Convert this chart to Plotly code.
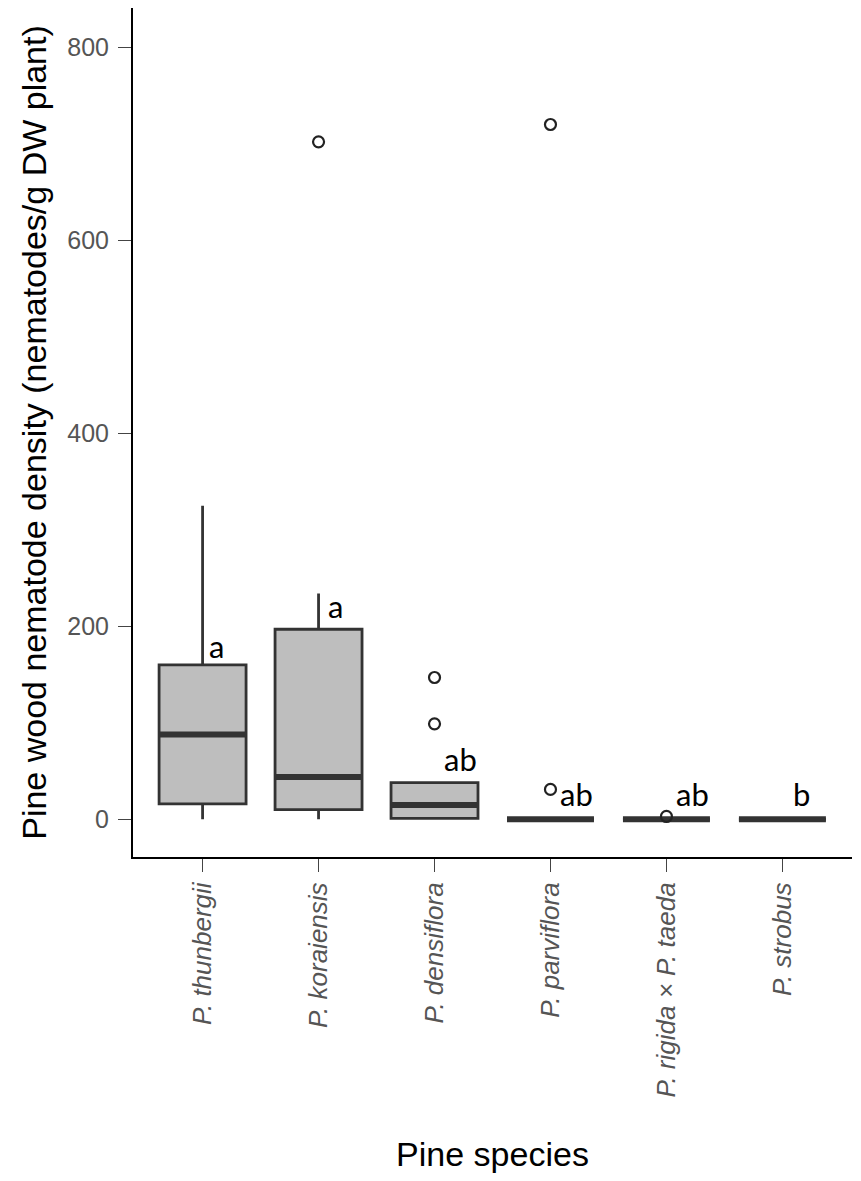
import plotly.graph_objects as go

species = ["P. thunbergii", "P. koraiensis", "P. densiflora", "P. parviflora",
           "P. rigida × P. taeda", "P. strobus"]
q1 = [16, 10, 1, 0, 0, 0]
median = [88, 44, 15, 0, 0, 0]
q3 = [160, 197, 38, 0, 0, 0]
lowerfence = [0, 0, 0, 0, 0, 0]
upperfence = [325, 234, 38, 0, 0, 0]
outlier_x = [1, 2, 2, 3, 3, 4]
outlier_y = [702, 147, 99, 720, 31, 3]
letters = ["a", "a", "ab", "ab", "ab", "b"]
letter_y = [162, 203, 45, 9, 9, 9]
letter_shift = [14, 17, 26, 26, 26, 19]

xpos = list(range(len(species)))
half = 0.375

fig = go.Figure()
fig.add_trace(go.Box(
    x=xpos, q1=q1, median=median, q3=q3,
    lowerfence=lowerfence, upperfence=upperfence,
    width=2 * half, whiskerwidth=0,
    fillcolor="#bebebe", line=dict(color="#333333", width=2.8),
    boxpoints=False, showlegend=False, hoverinfo="skip",
))
# thick median bars
for i, m in enumerate(median):
    fig.add_trace(go.Scatter(
        x=[xpos[i] - half, xpos[i] + half], y=[m, m], mode="lines",
        line=dict(color="#333333", width=6), showlegend=False, hoverinfo="skip",
    ))
fig.add_trace(go.Scatter(
    x=outlier_x, y=outlier_y, mode="markers",
    marker=dict(symbol="circle-open", size=11, color="#222222", line=dict(width=2.2)),
    showlegend=False, hoverinfo="skip",
))
for i, (t, yv, s) in enumerate(zip(letters, letter_y, letter_shift)):
    fig.add_annotation(x=xpos[i], y=yv, text=t, showarrow=False, xshift=s,
                       yanchor="bottom", xanchor="center", yshift=-4,
                       font=dict(family="Lato", size=31, color="black"))

fig.update_layout(
    width=853, height=1173,
    margin=dict(l=125, r=9, t=0, b=324),
    plot_bgcolor="white", paper_bgcolor="white",
    font=dict(family="Liberation Sans"),
    xaxis=dict(
        range=[-0.6, 5.6], tickmode="array", tickvals=xpos,
        ticktext=["<i>" + s + "</i>" for s in species], tickangle=-90,
        tickfont=dict(size=26, color="#555555"),
        ticks="outside", ticklen=13, tickwidth=1.2, tickcolor="#444444",
        showline=True, linecolor="black", linewidth=2, showgrid=False, zeroline=False,
        title=dict(text="Pine species", font=dict(size=34, color="black"), standoff=46),
    ),
    yaxis=dict(
        range=[-39, 840.7], tickvals=[0, 200, 400, 600, 800],
        tickfont=dict(size=25, color="#555555"), ticklabelstandoff=4,
        ticks="outside", ticklen=13, tickwidth=1.2, tickcolor="#444444",
        showline=True, linecolor="black", linewidth=2, showgrid=False, zeroline=False,
        title=dict(text="Pine wood nematode density (nematodes/g DW plant)",
                   font=dict(size=34, color="black"), standoff=10),
    ),
)
fig.write_html("out.html")
